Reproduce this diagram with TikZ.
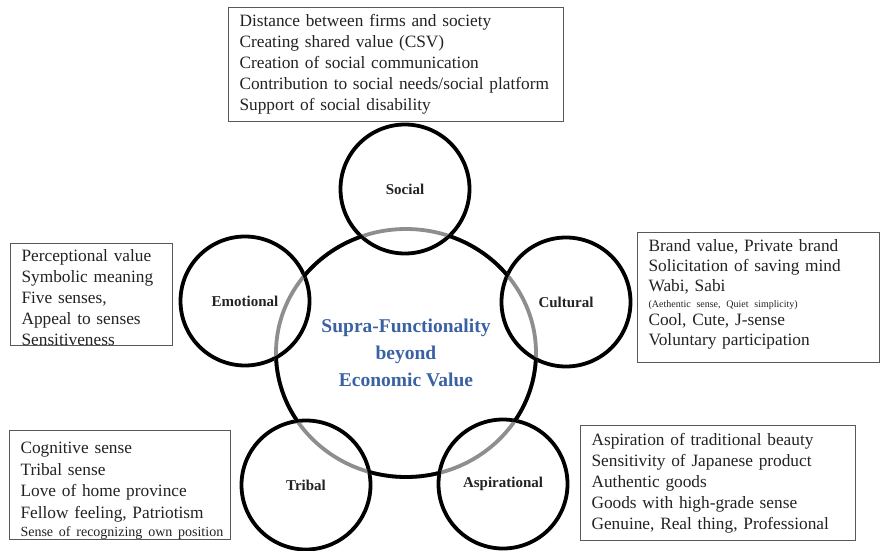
\documentclass[tikz,border=0pt]{standalone}
\usepackage{fontspec}
\setmainfont{Liberation Serif}
\usetikzlibrary{shapes.geometric}
\definecolor{coreblue}{HTML}{3A62A2}
\definecolor{arcgray}{HTML}{8E8E8E}
\definecolor{inkgray}{HTML}{222222}

\begin{document}
\begin{tikzpicture}[x=1pt, y=1pt,
    facet/.style={circle, draw, line width=3.8pt, minimum size=129pt, text=inkgray,
      font=\bfseries\fontsize{15}{18}\selectfont},
    ringpart/.style={line width=3.8pt},
    infobox/.style={rectangle, draw=black!65, line width=1.1pt, anchor=north west, align=left,
      inner xsep=11pt, inner ysep=0pt, text=inkgray, font=\fontsize{17.3}{21}\selectfont}]

  \useasboundingbox (0,0) rectangle (881,550);

  % Centre
  \node[ellipse, minimum width=260pt, minimum height=248pt, align=center,
    text=coreblue, font=\bfseries\fontsize{19.5}{27}\selectfont] (core) at (406,197)
    {Supra-Functionality\\beyond\\Economic Value};

  % Circles
  \node[facet] (social) at (405,361) {Social};
  \node[facet] (emotional) at (245,249) {Emotional};
  \node[facet] (cultural) at (566,248) {Cultural};
  \node[facet] (tribal) at (306,65) {Tribal};
  \node[facet] (aspirational) at (503,66) {Aspirational};

  % Centre ring: grey inside the circles, black between them
  \draw[ringpart, arcgray] (core.center) ellipse[x radius=130pt, y radius=124pt];
  \begin{scope}[even odd rule]
    \clip (0,0) rectangle (881,550)
      (social.center) circle[radius=63pt] (emotional.center) circle[radius=63pt]
      (cultural.center) circle[radius=63pt] (tribal.center) circle[radius=63pt]
      (aspirational.center) circle[radius=63pt];
    \draw[ringpart] (core.center) ellipse[x radius=130pt, y radius=124pt];
  \end{scope}

  % Boxes
  \node[infobox, minimum width=335pt, minimum height=114pt, text width=313pt] (socialbox) at (228,543)
    {Distance between firms and society\\Creating shared value (CSV)\\Creation of social communication\\Contribution to social needs/social platform\\Support of social disability};
  \node[infobox, minimum width=162pt, minimum height=102pt, text width=140pt] (emotionalbox) at (10,307)
    {\rule{0pt}{18pt}Perceptional value\\Symbolic meaning\\Five senses,\\Appeal to senses\\Sensitiveness};
  \node[infobox, minimum width=242pt, minimum height=130pt, text width=220pt,
    font=\fontsize{17.3}{20}\selectfont] (culturalbox) at (637,318)
    {Brand value, Private brand\\Solicitation of saving mind\\Wabi, Sabi\\[-4pt]
     {\fontsize{10}{12}\selectfont (Aethentic sense, Quiet simplicity)}\\[-2pt]
     Cool, Cute, J-sense\\Voluntary participation\rule[-11pt]{0pt}{11pt}};
  \node[infobox, minimum width=221pt, minimum height=108pt, text width=199pt,
    font=\fontsize{17.3}{21.5}\selectfont] (tribalbox) at (9,120)
    {\rule{0pt}{23pt}Cognitive sense\\Tribal sense\\Love of home province\\Fellow feeling, Patriotism\\[-3pt]
     \mbox{\fontsize{14}{16}\selectfont Sense of recognizing own position}};
  \node[infobox, minimum width=275pt, minimum height=115pt, text width=253pt] (aspirationalbox) at (580,125)
    {Aspiration of traditional beauty\\Sensitivity of Japanese product\\Authentic goods\\Goods with high-grade sense\\Genuine, Real thing, Professional};

\end{tikzpicture}
\end{document}
